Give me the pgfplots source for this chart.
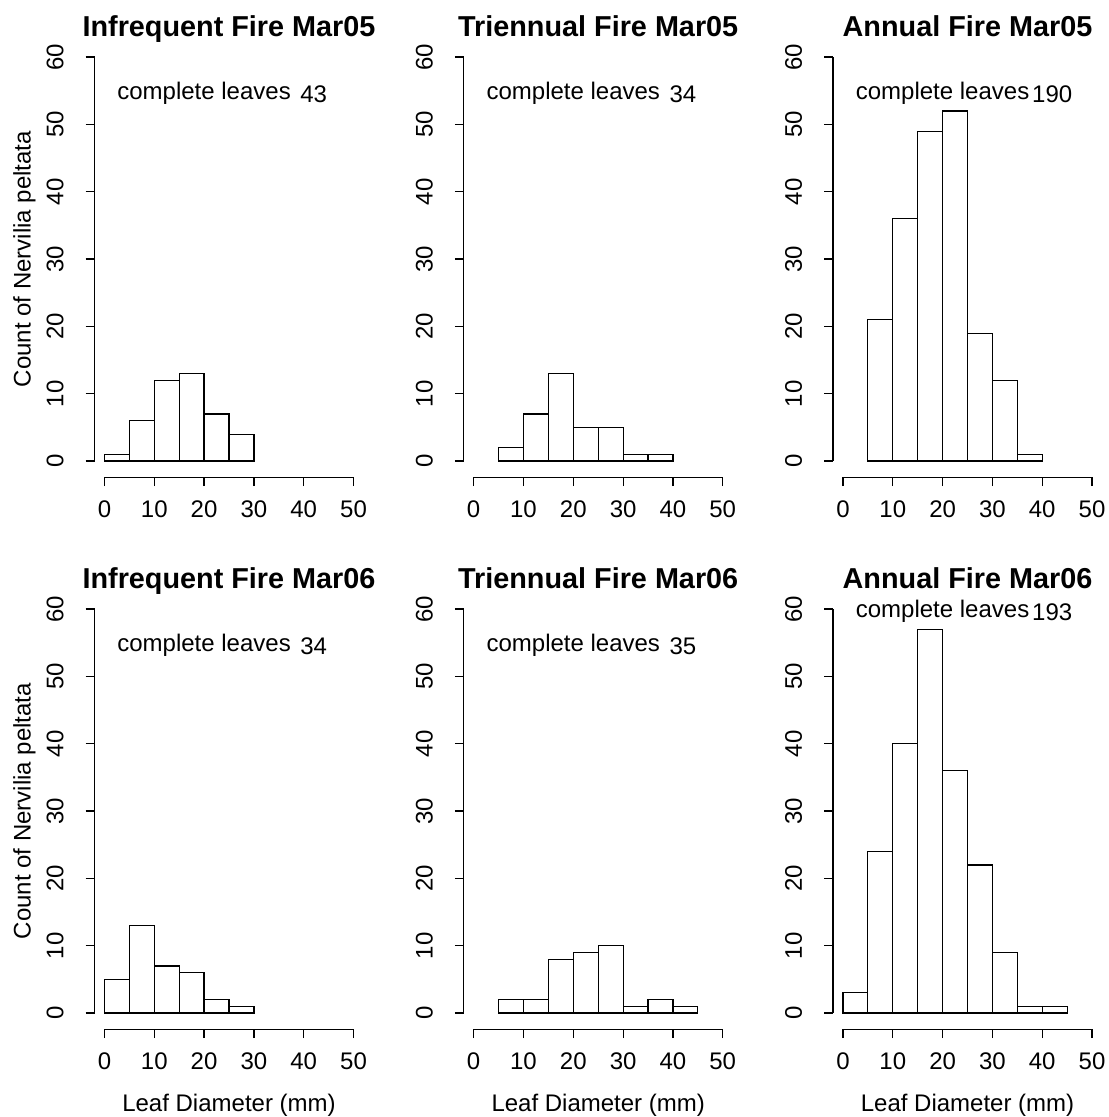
\documentclass[border=0pt]{standalone}
\usepackage{fontspec}
\setmainfont{Liberation Sans}
\usepackage{pgfplots}
\pgfplotsset{compat=1.18}
\newcommand{\rfont}{\fontsize{12}{14}\selectfont}
\pgfplotsset{
  rpanel/.style={
    scale only axis, width=134.5pt, height=218.15pt,
    xmin=-2, xmax=52, ymin=-2.4, ymax=62.4,
    axis lines*=left, axis line style={draw=none},
    xtick={0,10,20,30,40,50}, ytick={0,10,20,30,40,50,60},
    minor tick num=0,
    tick align=outside, major tick length=4.4pt,
    every tick/.style={black, line width=0.6pt},
    tick label style={font=\rfont},
    xticklabel style={anchor=base, yshift=-15.95pt},
    yticklabel style={xshift=-11.2pt, rotate=90, anchor=base},
    /pgf/number format/assume math mode=true,
    clip=false,
    every axis title/.style={at={(0.5,1)}, anchor=base, yshift=2.1pt, font=\fontsize{14.4}{17}\selectfont\bfseries},
    anchor=south west,
  },
  hbar/.style={ybar interval, fill=white, draw=black, line width=0.6pt},
}
\newcommand{\raxes}{%
  \draw[line width=0.6pt] (axis cs:0,-2.4) -- (axis cs:50,-2.4);
  \draw[line width=0.6pt] (axis cs:-2,0) -- (axis cs:-2,60);
}
\newcommand{\ylab}{\node[rotate=90, anchor=base, font=\rfont] at ([xshift=-31.95pt]axis cs:-2,30) {Count of Nervilia peltata};}
\newcommand{\xlab}{\node[anchor=base, font=\rfont] at ([yshift=-41.2pt]axis cs:25,-2.4) {Leaf Diameter (mm)};}
\newcommand{\leaves}[3]{%
  \node[anchor=base, font=\rfont, yshift=-4.3pt] at (axis cs:20,#1) {complete leaves};
  \node[anchor=base, font=\rfont, yshift=-5.95pt] at (axis cs:42,#1) {#2};
}
\begin{document}
\begin{tikzpicture}
\useasboundingbox (0,0) rectangle (554pt,-558.5pt);
% Row 1
\begin{axis}[rpanel, at={(47.25pt,-238.6pt)}, title={Infrequent Fire Mar05}]
\addplot[hbar] coordinates {(0,1) (5,6) (10,12) (15,13) (20,7) (25,4) (30,4)};
\raxes \ylab \leaves{55}{43}{}
\end{axis}
\begin{axis}[rpanel, at={(231.85pt,-238.6pt)}, title={Triennual Fire Mar05}]
\addplot[hbar] coordinates {(5,2) (10,7) (15,13) (20,5) (25,5) (30,1) (35,1) (40,1)};
\raxes \leaves{55}{34}{}
\end{axis}
\begin{axis}[rpanel, at={(416.5pt,-238.6pt)}, title={Annual Fire Mar05}]
\addplot[hbar] coordinates {(5,21) (10,36) (15,49) (20,52) (25,19) (30,12) (35,1) (40,1)};
\raxes \leaves{55}{190}{}
\end{axis}
% Row 2
\begin{axis}[rpanel, at={(47.25pt,-514.6pt)}, title={Infrequent Fire Mar06}]
\addplot[hbar] coordinates {(0,5) (5,13) (10,7) (15,6) (20,2) (25,1) (30,1)};
\raxes \ylab \xlab \leaves{55}{34}{}
\end{axis}
\begin{axis}[rpanel, at={(231.85pt,-514.6pt)}, title={Triennual Fire Mar06}]
\addplot[hbar] coordinates {(5,2) (10,2) (15,8) (20,9) (25,10) (30,1) (35,2) (40,1) (45,1)};
\raxes \xlab \leaves{55}{35}{}
\end{axis}
\begin{axis}[rpanel, at={(416.5pt,-514.6pt)}, title={Annual Fire Mar06}]
\addplot[hbar] coordinates {(0,3) (5,24) (10,40) (15,57) (20,36) (25,22) (30,9) (35,1) (40,1) (45,1)};
\raxes \xlab \leaves{60}{193}{}
\end{axis}
\end{tikzpicture}
\end{document}
